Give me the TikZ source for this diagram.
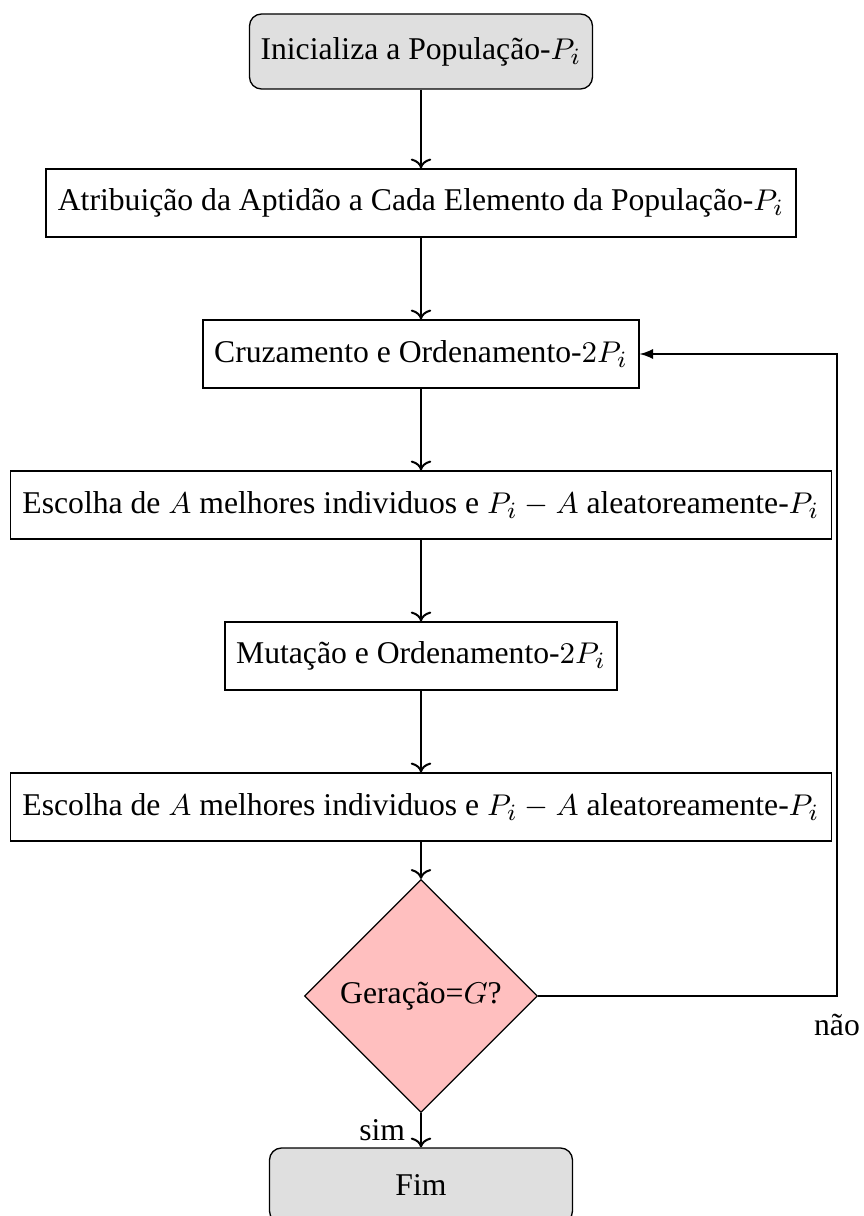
\documentclass[tikz,border=0pt]{standalone}
\usepackage{fontspec}
\setmainfont{Liberation Serif}
\usetikzlibrary{shapes.geometric,arrows.meta}
\begin{document}
\begin{tikzpicture}[x=0.3pt,y=-0.3pt,
  every node/.style={font=\fontsize{9.5}{11.5}\selectfont},
  proc/.style={draw, rectangle, minimum height=20.4pt, inner xsep=2pt},
  term/.style={draw, rectangle, rounded corners=3.6pt, fill=gray!25,
               minimum height=22.5pt, inner xsep=2pt},
  dec/.style={draw, diamond, fill=red!25, minimum width=69.9pt,
              minimum height=69.9pt, inner sep=0pt},
  flow/.style={->, semithick},
  back/.style={-latex, thin}]
  \useasboundingbox (0,0) rectangle (863,1216);

  % process chain
  \node[term, minimum width=102.9pt] (ini) at (421,51.5) {Inicializa a População-$P_i$};
  \node[proc, minimum width=225pt] (apt) at (421,203) {Atribuição da Aptidão a Cada Elemento da População-$P_i$};
  \node[proc, minimum width=130.8pt] (cruz) at (421,354) {Cruzamento e Ordenamento-$2P_i$};
  \node[proc, minimum width=246.3pt] (esc1) at (421,505) {Escolha de $A$ melhores individuos e $P_i-A$ aleatoreamente-$P_i$};
  \node[proc, minimum width=117.6pt] (mut) at (421,656) {Mutação e Ordenamento-$2P_i$};
  \node[proc, minimum width=246.3pt] (esc2) at (421,807) {Escolha de $A$ melhores individuos e $P_i-A$ aleatoreamente-$P_i$};
  \node[dec] (ger) at (421,996) {Geração=$G$?};
  \node[term, minimum width=90.9pt] (fim) at (421,1185.5) {Fim};

  % loop-back column
  \coordinate (rt) at (837,0);

  \draw[flow] (ini) -- (apt);
  \draw[flow] (apt) -- (cruz);
  \draw[flow] (cruz) -- (esc1);
  \draw[flow] (esc1) -- (mut);
  \draw[flow] (mut) -- (esc2);
  \draw[flow] (esc2) -- (ger);
  \draw[flow] (ger) -- node[left, inner sep=4.5pt] {sim} (fim);
  \draw[back] (ger.east) -- (ger.east -| rt)
      node[below, inner sep=0pt, yshift=-5.2pt] {não}
      |- (cruz.east);
\end{tikzpicture}
\end{document}
